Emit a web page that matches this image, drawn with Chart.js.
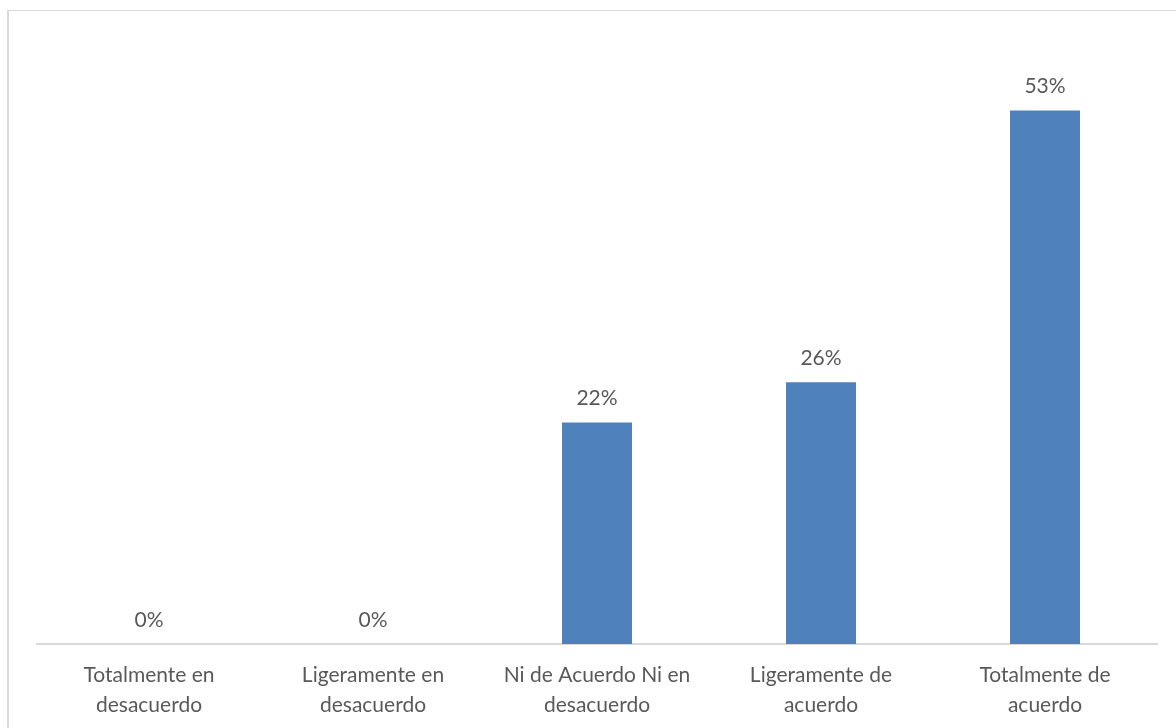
<!DOCTYPE html>
<html>
<head>
<meta charset="utf-8">
<script src="https://cdn.jsdelivr.net/npm/chart.js@4.4.0/dist/chart.umd.min.js"></script>
<style>
  html, body { margin: 0; padding: 0; background: #fff; overflow: hidden; }
  #frame {
    position: absolute; left: 7px; top: 10px;
    width: 1300px; height: 800px;
    border-left: 2px solid #d9d9d9; border-top: 1px solid #d9d9d9;
  }
  #chart { position: absolute; left: 0; top: 0; }
</style>
</head>
<body>
<div id="frame"></div>
<canvas id="chart" width="1176" height="728"></canvas>
<script>
  const categories = [
    ["Totalmente en", "desacuerdo"],
    ["Ligeramente en", "desacuerdo"],
    ["Ni de Acuerdo Ni en", "desacuerdo"],
    ["Ligeramente de", "acuerdo"],
    ["Totalmente de", "acuerdo"]
  ];
  const percentages = [0, 0, 22, 26, 53];

  const textColor = '#595959';
  const fontFamily = 'Lato, "Open Sans", sans-serif';
  const fontSize = 21;

  // writes the percentage above each bar
  const valueLabels = {
    id: 'valueLabels',
    afterDatasetsDraw(chart) {
      const ctx = chart.ctx;
      const meta = chart.getDatasetMeta(0);
      ctx.save();
      ctx.fillStyle = textColor;
      ctx.font = fontSize + 'px ' + fontFamily;
      ctx.textAlign = 'center';
      ctx.textBaseline = 'middle';
      meta.data.forEach((bar, i) => {
        ctx.fillText(percentages[i] + '%', bar.x, bar.y - 24);
      });
      ctx.restore();
    }
  };

  new Chart(document.getElementById('chart').getContext('2d'), {
    type: 'bar',
    data: {
      labels: categories,
      datasets: [{
        data: percentages,
        backgroundColor: '#4f81bd',
        categoryPercentage: 1,
        barPercentage: 0.3125
      }]
    },
    options: {
      responsive: false,
      animation: false,
      layout: { padding: { left: 37, right: 19, top: 40, bottom: 0 } },
      plugins: {
        legend: { display: false },
        tooltip: { enabled: false }
      },
      scales: {
        x: {
          grid: { display: false, drawTicks: false },
          border: { display: true, color: '#d9d9d9', width: 2 },
          afterFit(scale) { scale.height = 84; },
          ticks: {
            color: textColor,
            padding: 16,
            maxRotation: 0,
            autoSkip: false,
            font: { family: fontFamily, size: fontSize, lineHeight: 30 / fontSize }
          }
        },
        y: {
          display: false,
          min: 0,
          max: 60
        }
      }
    },
    plugins: [valueLabels]
  });
</script>
</body>
</html>
